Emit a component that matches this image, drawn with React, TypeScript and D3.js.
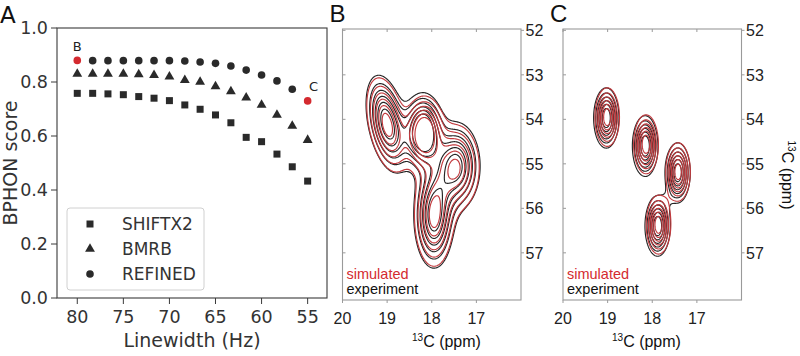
import React from "react";
import * as d3 from "d3";

// ---------- Panel A data ----------
const linewidths = [80, 78.33, 76.67, 75, 73.33, 71.67, 70, 68.33, 66.67, 65, 63.33, 61.67, 60, 58.33, 56.67, 55];
const shiftx2 = [0.758, 0.758, 0.756, 0.753, 0.746, 0.74, 0.731, 0.715, 0.699, 0.678, 0.649, 0.595, 0.579, 0.533, 0.486, 0.433];
const bmrb = [0.83, 0.83, 0.83, 0.83, 0.828, 0.825, 0.82, 0.807, 0.8, 0.784, 0.765, 0.742, 0.715, 0.678, 0.637, 0.585];
const refined = [0.88, 0.879, 0.879, 0.879, 0.879, 0.879, 0.879, 0.878, 0.874, 0.869, 0.859, 0.844, 0.826, 0.804, 0.773, 0.73];
const highlighted = [0, 15]; // indices of REFINED drawn red
const highlightLabels = ["B", "C"];
const xTicksA = [80, 75, 70, 65, 60, 55];
const yTicksA = [0, 0.2, 0.4, 0.6, 0.8, 1.0];
const legendNames = ["SHIFTX2", "BMRB", "REFINED"];

// ---------- Panels B/C data : peaks [x ppm, y ppm, amplitude, x width, y width, tilt] ----------
const bExpPeaks = [
  [19.0, 54.1, 0.98, 0.26, 0.6, -0.4],
  [18.2, 54.27, 1.2, 0.24, 0.45, 0],
  [17.45, 55.05, 0.92, 0.3, 0.55, 0],
  [17.95, 56.17, 0.96, 0.25, 0.65, 0],
];
const bSimPeaks = [
  [19.0, 54.12, 0.93, 0.26, 0.6, -0.4],
  [18.17, 54.32, 1.16, 0.24, 0.45, 0],
  [17.45, 55.08, 0.87, 0.3, 0.55, 0],
  [17.95, 56.17, 0.91, 0.25, 0.65, 0],
];
const cExpPeaks = [
  [19.03, 53.97, 1.0, 0.155, 0.37, 0],
  [18.16, 54.6, 1.02, 0.155, 0.37, 0],
  [17.43, 55.2, 0.98, 0.155, 0.37, 0],
  [17.88, 56.4, 1.0, 0.155, 0.37, 0],
  [17.66, 55.78, 0.05, 0.1, 0.12, 0],
];
const cSimPeaks = [
  [19.01, 53.95, 0.97, 0.155, 0.37, 0],
  [18.14, 54.56, 0.99, 0.155, 0.37, 0],
  [17.42, 55.18, 0.95, 0.155, 0.37, 0],
  [17.86, 56.37, 0.97, 0.155, 0.37, 0],
];
const contourLevels = [0.2, 0.33, 0.46, 0.59, 0.72, 0.85];
const xTicksNMR = [20, 19, 18, 17];
const yTicksNMR = [52, 53, 54, 55, 56, 57];

const RED = "#d42a2f";
const CRED = "#c23a3e";
const DARK = "#2a2a2a";
const SANS = "'DejaVu Sans', sans-serif";
const ARIAL = "'Liberation Sans', Arial, sans-serif";

function PanelA() {
  const x = d3.scaleLinear().domain([82.2, 52.9]).range([57, 327]);
  const y = d3.scaleLinear().domain([0, 1]).range([298, 28]);
  const tri = d3.symbol().type(d3.symbolTriangle).size(42)();
  const sq = 7;
  return (
    <g>
      <text x={0} y={23} fontFamily={SANS} fontSize={23} fill="#111">A</text>
      <rect x={57} y={28} width={270} height={270} fill="none" stroke="#3a3a3a" strokeWidth={1.1} />
      {xTicksA.map((t) => (
        <g key={t}>
          <line x1={x(t)} x2={x(t)} y1={298} y2={304} stroke="#3a3a3a" />
          <text x={x(t)} y={323} textAnchor="middle" fontFamily={SANS} fontSize={17.5} fill="#333">{t}</text>
        </g>
      ))}
      {yTicksA.map((t) => (
        <g key={t}>
          <line x1={51} x2={57} y1={y(t)} y2={y(t)} stroke="#3a3a3a" />
          <text x={48} y={y(t)} dy="0.36em" textAnchor="end" fontFamily={SANS} fontSize={17.5} fill="#333">{t.toFixed(1)}</text>
        </g>
      ))}
      <text x={192} y={347} textAnchor="middle" fontFamily={SANS} fontSize={19} fill="#333">Linewidth (Hz)</text>
      <text transform="translate(17,163) rotate(-90)" textAnchor="middle" fontFamily={SANS} fontSize={19} fill="#333">BPHON score</text>
      {linewidths.map((lw, i) => (
        <rect key={"s" + i} x={x(lw) - sq / 2} y={y(shiftx2[i]) - sq / 2} width={sq} height={sq} fill={DARK} />
      ))}
      {linewidths.map((lw, i) => (
        <path key={"t" + i} d={tri!} transform={`translate(${x(lw)},${y(bmrb[i])})`} fill={DARK} />
      ))}
      {linewidths.map((lw, i) => (
        <circle key={"c" + i} cx={x(lw)} cy={y(refined[i])} r={3.8} fill={highlighted.includes(i) ? RED : DARK} />
      ))}
      {highlighted.map((idx, k) => (
        <text key={"h" + k} x={x(linewidths[idx]) + (k === 0 ? 0 : 6)} y={y(refined[idx]) - (k === 0 ? 9 : 10)} textAnchor="middle" fontFamily={SANS} fontSize={13} fill="#222">{highlightLabels[k]}</text>
      ))}
      <rect x={67} y={208} width={137} height={82} rx={3} fill="#fff" stroke="#d0d0d0" />
      {legendNames.map((n, k) => {
        const cy = 224 + k * 25;
        return (
          <g key={n}>
            {k === 0 && <rect x={90 - 3.5} y={cy - 3.5} width={7} height={7} fill={DARK} />}
            {k === 1 && <path d={tri!} transform={`translate(90,${cy})`} fill={DARK} />}
            {k === 2 && <circle cx={90} cy={cy} r={3.8} fill={DARK} />}
            <text x={122} y={cy} dy="0.36em" fontFamily={SANS} fontSize={17} fill="#333">{n}</text>
          </g>
        );
      })}
    </g>
  );
}

function contourPaths(peaks: number[][], wScale: number, left: number, top: number, width: number, height: number, xs: any, ys: any) {
  const nx = Math.round(width * 1.5);
  const ny = Math.round(height * 1.5);
  const cw = width / nx;
  const ch = height / ny;
  const values = new Float64Array(nx * ny);
  for (let j = 0; j < ny; j++) {
    const yv = ys.invert(top + (j + 0.5) * ch);
    for (let i = 0; i < nx; i++) {
      const xv = xs.invert(left + (i + 0.5) * cw);
      let s = 0;
      for (const p of peaks) {
        const a = (xv - p[0]) / (p[3] * wScale);
        const b = (yv - p[1]) / (p[4] * wScale);
        const r = p[5];
        const q = (a * a - 2 * r * a * b + b * b) / (1 - r * r);
        s += p[2] * Math.exp(-0.5 * q);
      }
      values[j * nx + i] = s;
    }
  }
  const cs = d3.contours().size([nx, ny]).thresholds(contourLevels)(Array.from(values));
  const proj = d3.geoTransform({
    point: function (px: number, py: number) {
      (this as any).stream.point(left + px * cw, top + py * ch);
    },
  });
  const path = d3.geoPath(proj);
  return cs.map((c) => path(c as any) || "");
}

function PanelNMR({ left, label, exp, sim, axisLabelX, rightLabel }: any) {
  const top = 29;
  const width = 178.5;
  const height = 271;
  const xs = d3.scaleLinear().domain([20, 16]).range([left, left + width]);
  const ys = d3.scaleLinear().domain([51.97, 58.06]).range([top, top + height]);
  const expPaths = contourPaths(exp, 1.02, left, top, width, height, xs, ys);
  const simPaths = contourPaths(sim, 1.0, left, top, width, height, xs, ys);
  const frame = "#9a9a9a";
  return (
    <g>
      <text x={left - 13} y={22} fontFamily={ARIAL} fontSize={24} fill="#111">{label}</text>
      <rect x={left} y={top} width={width} height={height} fill="#fff" stroke={frame} strokeWidth={1.1} />
      {xTicksNMR.map((t) => (
        <g key={t}>
          <line x1={xs(t)} x2={xs(t)} y1={top + height} y2={top + height + 3} stroke={frame} />
          <line x1={xs(t)} x2={xs(t)} y1={top} y2={top + 3} stroke={frame} />
          <text x={xs(t)} y={324} textAnchor="middle" fontFamily={ARIAL} fontSize={16} fill="#222">{t}</text>
        </g>
      ))}
      {yTicksNMR.map((t) => (
        <g key={t}>
          <line x1={left + width} x2={left + width + 3} y1={ys(t)} y2={ys(t)} stroke={frame} />
          <line x1={left} x2={left + 3} y1={ys(t)} y2={ys(t)} stroke={frame} />
          <text x={left + width + 4.5} y={ys(t)} dy="0.36em" fontFamily={ARIAL} fontSize={16} fill="#222">{t}</text>
        </g>
      ))}
      <g fill="none" strokeWidth={1.15}>
        {expPaths.map((d, i) => <path key={"e" + i} d={d} stroke="#262626" />)}
        {simPaths.map((d, i) => <path key={"s" + i} d={d} stroke={CRED} />)}
      </g>
      <text x={left + 4} y={279} fontFamily={ARIAL} fontSize={14.5} fill={RED}>simulated</text>
      <text x={left + 4} y={294} fontFamily={ARIAL} fontSize={14.5} fill="#111">experiment</text>
      <text x={axisLabelX} y={347} fontFamily={ARIAL} fontSize={16} fill="#111">
        <tspan fontSize={10} dy={-6}>13</tspan>
        <tspan dy={6}>C (ppm)</tspan>
      </text>
      {rightLabel && (
        <text transform="translate(782,175) rotate(90)" textAnchor="middle" fontFamily={ARIAL} fontSize={16} fill="#111">
          <tspan fontSize={10} dy={-6}>13</tspan>
          <tspan dy={6}>C (ppm)</tspan>
        </text>
      )}
    </g>
  );
}

export default function App() {
  return (
    <svg width={800} height={356} style={{ position: "absolute", left: 0, top: 0, background: "#fff" }}>
      <rect width={800} height={356} fill="#fff" />
      <PanelA />
      <PanelNMR left={342.5} label="B" exp={bExpPeaks} sim={bSimPeaks} axisLabelX={412} rightLabel={false} />
      <PanelNMR left={563} label="C" exp={cExpPeaks} sim={cSimPeaks} axisLabelX={612} rightLabel={true} />
    </svg>
  );
}
